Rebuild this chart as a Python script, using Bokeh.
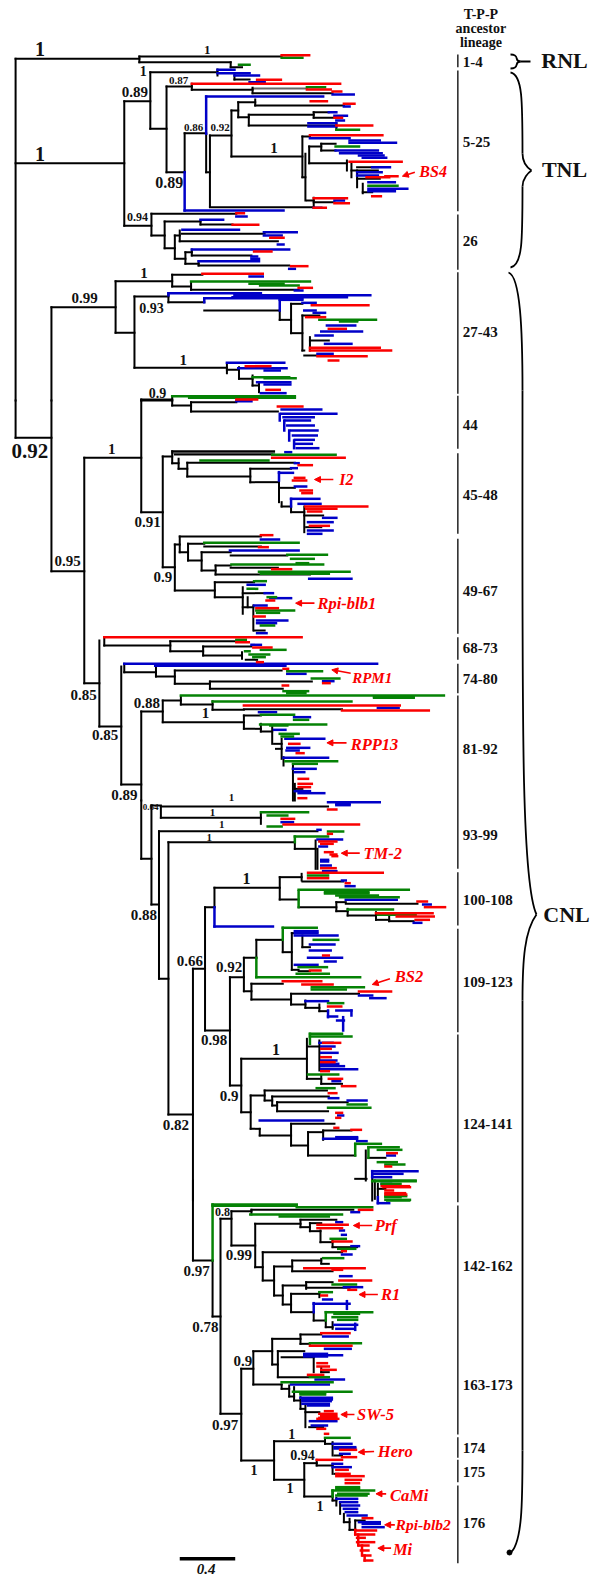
from bokeh.plotting import figure
from bokeh.embed import file_html
from bokeh.resources import INLINE
from bokeh.models import Arrow, NormalHead
from bokeh.core.properties import value

# Tree read per picture band: horizontal (y, x0, x1), vertical (x, y0, y1)
p1_black_h = [(175,40,368),(168,368,745),(185,368,610),(200,610,640),(488,40,328),(302,328,397),(215,397,575),(237,620,660),
(385,397,440),(258,440,507),(268,507,668),(278,668,880),(515,440,488),(398,488,545),(515,545,555),(405,555,612),
(330,612,630),(305,630,675),(315,675,910),(350,630,658),(343,658,830),(352,830,885),(335,830,870),(375,658,890),(468,612,800),
(408,800,820),(530,800,808),(438,818,850),(430,850,888),(450,850,888),(488,818,918),(510,930,1000),(500,945,1000),(535,945,1005),
(575,960,985),(600,812,830),(605,830,885),(620,555,830),
(920,135,305),(842,305,455),(823,455,535),(858,455,505),(868,505,790),(997,305,355),(888,355,445),(905,445,540),(930,540,740),
(958,740,770),(910,770,800),(998,770,800),(945,800,845),(1020,820,870),(1050,800,805),(1065,805,840),(1102,355,600),(1108,600,632),
(1135,632,668),(1155,668,685),
(676,328,400),(640,400,625),(705,400,435),(663,435,530),(672,530,615),(743,435,462),(705,462,475),(700,480,700),(722,475,735),
(775,462,490),(755,490,507),(765,507,665),(790,490,525),(795,525,765),(1197,373,455)]
p1_gray_h = [(264,668,812)]
p1_black_v = [(40,175,1200),(368,168,185),(610,185,200),(328,302,676),(397,215,385),(575,207,225),(620,218,237),(440,258,515),(507,250,268),
(668,262,278),(488,398,515),(545,400,515),(555,405,618),(612,330,468),(630,305,350),(675,297,315),(658,343,375),(830,335,352),
(890,368,388),(800,408,530),(808,460,600),(818,438,488),(850,430,450),(918,480,510),(930,490,530),(945,510,560),(960,550,578),
(830,592,620),(135,920,1200),(305,842,997),(455,823,858),(505,846,868),(355,888,1102),(445,878,905),(740,930,958),(770,910,998),
(800,945,1050),(820,1010,1050),(600,1088,1118),(632,1100,1135),(668,1125,1155),(685,1145,1175),(400,640,705),(435,663,743),(530,660,672),
(462,705,775),(475,690,722),(490,755,790),(507,747,765),(525,782,795),(373,1197,1200),(455,1187,1200)]
p1_blue_h = [(208,575,620),(218,575,660),(225,620,685),(245,660,700),(282,880,936),(288,545,855),(318,910,925),(335,870,890),(346,885,918),
(360,890,910),(368,816,890),(378,816,890),(413,820,925),(420,925,1005),(427,925,1048),(450,888,1000),(458,900,1010),(465,950,1015),(472,960,1022),
(500,985,1032),(515,945,1010),(525,945,1000),(545,975,1045),(565,975,1078),(572,975,1045),(600,885,910),(622,830,850),(630,488,750),
(828,660,695),(870,780,800),(878,445,690),(884,620,980),(890,615,918),(893,540,800),(898,740,800),(907,800,835),(930,805,835),(937,830,860),
(975,865,940),(993,850,958),(1005,835,880),(1030,860,930),(1060,840,880),(1087,600,752),(1103,630,758),(1110,700,740),(1145,680,768),(1152,700,768),(1178,690,755),
(648,625,652),(658,530,590),(688,482,632),(695,698,785),(705,698,745),(732,735,750),(747,507,765),(768,665,680),(775,665,685),(782,525,685),(805,765,780)]
p1_blue_v = [(488,515,630),(545,288,400),(445,878,884),(540,893,905),(740,898,930)]
p1_green_h = [(172,745,800),(193,632,660),(260,812,860),(388,890,950),(438,888,950),(556,975,1052),(843,505,820),(850,660,750),(855,688,790),
(958,845,995),(960,900,945),(963,900,945),(1130,668,765),(1133,700,782),(1187,455,780),(1192,500,780)]
p1_green_v = []
p1_red_h = [(164,745,818),(238,680,743),(250,507,900),(267,812,875),(273,880,903),(302,822,865),(310,910,938),(352,885,905),(375,890,985),
(404,820,1012),(484,925,1063),(530,970,1030),(527,1020,1052),(593,830,918),(608,885,923),(622,830,862),(587,985,1008),
(638,625,645),(673,615,683),(712,715,750),(753,672,718),(797,770,813),(820,535,695),(862,790,825),(914,825,975),(950,810,860),(985,870,915),
(1042,820,1005),(1050,820,1035),(1067,840,970),(1080,870,895),(1097,650,715),(1168,705,740),(1197,625,680)]

p2_black_h = [(0,373,455),(15,455,505),(5,505,625),(33,505,735),(112,40,135),(172,222,373),(335,373,430),(168,430,455),(152,455,725),(162,462,720),
(188,455,472),(205,472,495),(187,495,780),(228,495,662),(205,662,770),(245,662,738),(262,738,780),(318,745,770),(335,770,805),(345,805,855),(380,810,850),
(500,430,462),(432,462,475),(408,475,690),(455,475,497),(430,497,540),(438,540,690),(480,497,533),(455,533,610),(465,610,760),(510,533,570),(495,570,610),
(502,610,735),(522,570,820),(570,462,568),(545,568,672),(590,568,642),(578,642,700),(620,642,670),(690,672,700),(512,135,222),
(848,222,262),(735,275,450),(722,450,625),(752,450,537),(738,537,665),(765,537,640),(778,650,680),(978,262,320),(815,328,412),(828,412,462),(810,462,745),
(850,462,555),(843,555,825),(865,555,748),(1152,320,373),(933,373,430),(900,430,478),(912,478,562),(928,562,645),(926,645,905),(965,430,645),(945,645,690),
(985,645,690),(993,690,720),(1030,725,745),(1045,730,745),(1165,780,800)]
p2_gray_h = [(157,455,725)]
p2_black_v = [(40,0,112),(135,0,512),(373,0,335),(455,0,15),(505,5,33),(222,172,848),(430,168,500),(455,152,188),(472,175,205),(495,187,228),(662,205,245),
(738,245,305),(745,305,318),(770,318,335),(805,318,395),(462,432,570),(475,408,455),(497,430,480),(533,455,510),(570,495,522),(568,545,590),(642,560,640),(655,590,620),
(670,615,690),(262,720,978),(275,710,735),(450,722,752),(537,738,765),(640,755,775),(320,798,1152),(328,790,815),(412,800,828),(462,810,850),(555,843,865),
(373,933,1200),(430,900,965),(478,888,912),(562,902,928),(645,945,985),(690,970,993),(720,980,1030),(745,1015,1075),(750,1070,1095),(775,1095,1200),(780,1150,1200)]
p2_blue_h = [(2,625,665),(27,745,850),(40,745,890),(50,750,830),(60,755,820),(75,760,830),(90,770,840),(105,775,838),(118,780,830),(130,780,825),(143,785,842),
(155,755,770),(188,780,790),(203,770,785),(217,738,775),(258,780,810),(295,770,845),(310,790,848),(352,855,890),(365,815,880),(390,815,880),(400,815,850),
(417,690,738),(450,608,790),(535,818,930),(553,655,700),(578,700,722),(593,715,770),(615,672,705),(660,680,760),(668,680,730),(698,680,705),
(733,665,690),(790,328,998),(796,410,755),(820,760,808),(842,855,882),(922,1000,1055),(935,685,730),(950,778,820),(988,725,755),(1015,755,858),(1042,760,818),(1050,758,790),
(1072,750,868),(1105,775,835),(1115,780,805),(1172,780,820),(1178,790,858)]
p2_blue_v = [(738,215,240),(740,40,60),(752,60,90),(765,90,120),(778,120,143),(770,295,318)]
p2_green_h = [(163,720,888),(180,530,710),(427,540,790),(463,760,865),(475,770,830),(488,785,815),(492,612,855),(514,685,925),(520,690,870),(542,672,703),
(565,655,680),(590,708,730),(630,678,778),(637,680,738),(675,690,725),(718,625,650),(748,690,755),(752,648,660),(762,660,712),(770,670,700),(812,760,852),(834,825,898),
(872,750,815),(878,760,808),(885,478,1175),(889,990,1095),(892,990,1095),(903,562,930),(943,690,778),(958,778,815),(972,688,863),(975,715,760),(1000,740,790),(1008,745,775),(1082,755,892),(1090,775,838)]
p2_red_h = [(18,735,800),(172,720,912),(194,790,825),(232,780,805),(240,775,810),(270,795,825),(278,800,825),(318,808,972),(325,810,890),(333,815,850),(376,820,870),
(404,690,720),(440,685,708),(506,720,770),(600,705,725),(623,678,735),(648,672,700),(710,275,798),(725,625,658),(741,670,718),(785,680,695),(805,750,762),(848,855,872),(855,748,762),
(915,645,1058),(930,905,1135),(1030,765,792),(1058,785,803),(1135,790,815),(1150,790,825),(1160,790,820),(1193,790,810)]

p3_black_h = [(18,425,868),(52,425,690),(175,373,400),(15,400,425),(312,400,420),(92,420,840),(535,420,445),(125,445,780),(145,780,835),(942,445,510),(505,510,542),
(320,542,567),(262,567,740),(230,740,798),(243,800,908),(297,740,790),(320,790,890),(305,890,915),(310,915,1105),(332,890,920),(345,920,995),(358,995,1030),(362,1030,1095),
(690,542,608),(530,608,645),(472,645,678),(418,678,748),(455,748,772),(398,772,780),(440,800,820),(508,772,790),(512,790,820),(572,645,665),(550,665,748),(597,665,770),
(580,770,950),(612,770,808),(622,808,845),(632,845,868),(855,608,638),(775,638,812),(738,815,845),(835,812,850),(850,850,905),(935,638,663),(885,663,700),(870,700,865),(900,700,720),
(888,720,870),(915,720,733),(905,733,920),(932,733,868),(985,663,687),(1005,687,770),(970,770,885),(1035,770,815),(995,815,855),(990,855,930),(1065,815,940),(1135,940,970),(1072,975,1020)]
p3_black_v = [(373,0,175),(400,15,312),(425,18,52),(690,40,70),(420,92,535),(445,125,942),(780,125,145),(835,120,205),(840,145,205),(510,505,1200),(542,320,690),(567,262,320),(740,230,297),(798,220,240),(890,305,332),
(920,325,345),(995,335,358),(1030,345,362),(608,530,855),(645,472,572),(678,418,472),(748,418,455),(772,398,508),(800,405,440),(665,550,597),(770,580,612),(808,600,622),(845,612,632),
(638,775,935),(812,715,835),(845,720,810),(850,825,850),(663,885,985),(700,870,900),(720,888,915),(733,905,932),(687,985,1005),(770,970,1035),(815,995,1065),(855,990,1018),
(968,1050,1140),(985,1120,1200),(1000,1150,1200)]
p3_blue_h = [(5,868,1005),(10,890,925),(14,890,925),(65,745,775),(88,840,848),(117,840,905),(138,845,865),(178,850,868),(183,850,868),(195,850,875),(212,855,890),(240,905,915),(257,915,938),(298,915,1050),
(312,1120,1140),(367,1095,1115),(378,567,722),(392,780,840),(405,780,893),(398,780,840),(432,820,885),(450,820,875),(472,815,905),(483,860,888),(493,780,840),(585,950,985),(593,980,1020),(602,808,868),
(630,890,930),(648,868,892),(660,892,910),(738,850,885),(757,850,893),(727,845,880),(780,850,890),(790,850,895),(797,850,910),(806,850,945),(842,880,900),(893,870,895),(900,920,970),
(945,895,908),(960,687,855),(1015,855,945),(1010,890,945),(1022,945,970),(1065,1025,1045),(1112,985,1105),(1120,990,1065),(1130,985,1035)]
p3_blue_v = [(567,320,378),(868,630,650),(930,630,645),(908,650,690),(985,1112,1130)]
p3_green_h = [(35,690,815),(45,708,760),(78,708,745),(93,868,908),(108,780,868),(225,815,868),(268,790,1082),(275,860,975),(279,860,975),(285,890,1000),(290,900,1055),(327,920,1040),(343,1000,1100),
(382,748,838),(418,830,895),(500,790,865),(520,785,870),(530,678,953),(560,825,963),(567,825,915),(608,868,908),(700,820,905),(708,820,930),(822,815,895),(863,838,885),(912,920,970),
(922,868,980),(1030,940,1008),(1040,975,1055),(1048,1000,1062),(1085,1000,1050),(1092,1020,1070),(1140,990,1100),(1150,1010,1060),(1190,1020,1060),(1198,1020,1085)]
p3_green_v = [(790,272,320),(780,108,125),(678,472,530),(748,382,418),(820,700,730),(940,1030,1065),(975,1040,1072)]
p3_red_h = [(27,868,890),(55,745,778),(72,750,950),(100,868,878),(123,845,890),(130,850,880),(155,860,880),(162,875,890),(167,880,892),(203,850,888),(217,815,1013),(233,815,868),(248,915,925),
(303,1105,1130),(320,1125,1178),(338,995,1145),(348,1050,1148),(358,1100,1135),(465,855,870),(510,820,848),(542,748,850),(552,800,880),(573,950,1035),(618,868,903),
(727,855,900),(745,850,875),(770,850,875),(785,850,885),(812,850,870),(835,870,905),(857,905,940),(878,870,890),(937,890,905),(952,890,900),(982,885,895),(988,930,955),(1058,1025,1050),
(1098,1020,1035),(1160,1015,1085),(1170,1020,1040),(1182,1020,1075)]

p4_black_h = [(240,510,562),(408,562,583),(115,583,612),(92,612,665),(88,665,935),(195,612,675),(130,675,795),(118,795,890),(140,795,820),(128,820,850),(152,820,848),(185,848,880),(200,880,945),
(260,675,695),(215,695,905),(300,695,725),(258,725,773),(240,773,850),(250,850,870),(272,773,880),(345,725,748),(315,748,810),(305,810,880),(322,810,925),(372,748,770),(340,770,845),(395,770,830),
(420,830,862),(440,862,880),(700,583,638),(565,638,670),(512,670,720),(475,720,795),(462,795,850),(490,795,820),(552,720,735),(512,735,805),(530,745,830),(575,850,870),(590,735,815),(612,670,745),
(625,745,765),(648,765,778),(660,778,795),(685,795,805),(695,808,845),(740,818,855),(840,638,725),(782,725,860),(790,860,880),(825,885,905),(898,725,805),(848,805,838),(855,838,880),(880,885,895),
(948,805,880),(960,880,890),(1025,910,925),(1048,925,940),(1020,940,965),(25,1000,1020)]
p4_black_v = [(510,0,240),(992,0,55),(562,240,408),(583,115,700),(612,92,195),(665,88,102),(675,130,260),(795,118,140),(820,128,152),(848,150,185),(880,180,200),(695,215,300),(725,258,345),(773,240,272),
(850,235,248),(748,315,372),(810,305,325),(770,340,395),(845,335,350),(830,395,420),(862,420,440),(880,425,445),(638,565,840),(670,512,612),(720,475,552),(795,462,490),(735,512,590),(830,525,575),(850,560,575),
(745,612,625),(765,615,648),(778,620,660),(795,650,685),(808,672,740),(725,782,898),(860,775,790),(880,785,825),(805,848,948),(838,838,855),(880,850,880),(880,930,960),(890,952,975),(900,970,1000),(910,1000,1025),
(925,1015,1048),(940,1020,1048)]
p4_blue_h = [(10,1010,1035),(68,1000,1030),(95,930,950),(125,890,905),(150,900,910),(163,905,915),(197,930,950),(222,905,930),(287,900,930),(320,910,958),(357,855,878),(370,830,925),(433,885,945),(445,890,935),
(468,855,920),(505,860,928),(520,805,865),(524,805,905),(528,805,865),(597,835,910),(612,770,870),(652,795,878),(657,800,878),(662,800,875),(670,800,870),(675,815,870),(722,820,890),(735,825,865),
(790,880,930),(800,885,940),(804,885,940),(820,900,925),(850,880,905),(860,880,928),(955,890,945),(965,900,945),(975,905,950),(985,910,945),(995,915,945),(1005,920,970),(1025,950,1005),(1030,960,1005),(1040,960,1015)]
p4_blue_v = [(830,368,395),(918,362,385),(940,430,448),(1000,50,68)]
p4_green_h = [(2,985,1100),(47,1020,1075),(60,1025,1083),(72,562,785),(76,562,785),(80,785,985),(102,662,905),(108,740,870),(175,875,915),(205,895,940),(233,855,908),(312,880,942),(335,845,878),
(395,862,985),(400,885,950),(410,880,945),(418,895,945),(488,820,955),(590,820,870),(605,745,880),(634,775,930),(638,795,860),(642,795,860),(772,860,925),(920,890,950),(925,890,950),(930,880,990),(940,895,975),(945,890,970)]
p4_green_v = [(562,72,240),(862,395,420),(880,930,948)]
p4_red_h = [(17,1010,1082),(38,1020,1072),(88,950,985),(133,840,920),(143,840,905),(183,880,930),(212,905,915),(263,805,965),(268,880,905),(300,898,982),(328,922,942),(345,850,865),(458,850,925),(496,820,930),
(548,840,865),(558,840,870),(568,850,888),(583,815,855),(692,860,880),(700,845,890),(707,850,890),(712,845,890),(715,840,895),(745,840,860),(760,860,868),(808,900,942),(830,905,942),(838,838,905),
(868,890,920),(880,890,925),(887,890,962),(898,915,955),(908,915,950),(1013,960,985),(1050,940,995),(1062,940,990),(1072,945,965),(1085,945,990),(1095,950,975),(1110,955,975),(1125,960,980),(1140,965,985)]
p4_red_v = [(940,1048,1062),(948,1062,1095),(958,1095,1125),(965,1125,1140)]

panel_top = [0, 400, 800, 1180]
x_per_ref = 2.65
y_per_ref = 3.0

lineage_labels = ["1-4","5-25","26","27-43","44","45-48","49-67","68-73","74-80","81-92","93-99","100-108","109-123","124-141","142-162","163-173","174","175","176"]
lineage_panel = [0,0,0,0,1,1,1,1,1,1,2,2,2,2,3,3,3,3,3]
lineage_y = [183,425,722,993,72,282,570,743,835,1045,102,298,545,970,255,612,803,875,1028]
lineage_bars = [(0,162,0,200),(0,210,0,632),(0,642,0,808),(0,815,0,1180),(0,1186,1,145),(1,158,1,400),(1,415,1,700),(1,710,1,778),(1,790,1,878),(1,885,2,205),(2,215,2,375),(2,385,2,695),(2,702,3,65),(3,75,3,762),(3,770,3,832),(3,838,3,905),(3,915,3,1148)]

support = [
(0,"1",105,145,20),(0,"1",548,147,13),(0,"1",378,212,14),(0,"0.89",356,275,15),(0,"0.87",472,240,11),(0,"0.86",512,380,11),(0,"0.92",582,382,11),
(0,"1",105,460,20),(0,"1",725,442,15),(0,"0.89",447,545,16),(0,"0.94",363,650,12),(0,"1",380,818,15),(0,"0.99",223,893,15),(0,"0.93",400,922,14),(0,"1",484,1077,15),(0,"0.9",416,1178,14),
(1,"0.92",78,150,21),(1,"1",295,145,15),(1,"0.91",390,365,15),(1,"0.95",178,482,15),(1,"0.9",430,530,15),(1,"0.85",220,882,15),(1,"0.85",277,1003,15),(1,"0.88",388,907,15),(1,"1",543,938,15),(1,"0.89",328,1182,15),(1,"1",612,1190,11),
(2,"0.64",398,18,9),(2,"1",562,35,11),(2,"1",586,72,11),(2,"1",553,110,11),(2,"1",652,235,16),(2,"0.88",380,342,15),(2,"0.66",502,480,15),(2,"0.92",606,500,15),(2,"0.98",566,718,15),(2,"1",730,747,16),(2,"0.9",606,885,15),(2,"0.82",465,972,15),
(3,"0.8",588,93,12),(3,"0.99",632,222,15),(3,"0.97",520,272,15),(3,"0.78",543,438,15),(3,"0.9",642,540,15),(3,"0.97",595,732,15),(3,"1",772,760,14),(3,"0.94",800,824,14),(3,"1",672,867,14),(3,"1",767,922,14),(3,"1",847,975,14)]

genes = [
(0,"BS4",1110,513,1098,515,1065,527,16),(1,"I2",898,237,882,237,832,237,16),(1,"Rpi-blb1",840,610,832,608,782,608,16.5),(1,"RPM1",932,832,928,818,878,808,15),(1,"RPP13",928,1033,917,1027,865,1027,16.5),
(2,"TM-2",962,160,952,158,903,158,16.5),(2,"BS2",1045,528,1032,535,985,552,16.5),(3,"Prf",992,135,985,135,935,135,16.5),(3,"R1",1008,342,1000,342,950,342,16.5),(3,"SW-5",945,702,938,702,902,702,16.5),
(3,"Hero",1000,812,990,813,948,815,16.5),(3,"CaMi",1032,945,1022,940,995,940,16.5),(3,"Rpi-blb2",1047,1033,1045,1033,1018,1033,15.5),(3,"Mi",1040,1108,1035,1103,1000,1103,16.5)]

header_lines = ["T-P-P","ancestor","lineage"]
header_y = [14,28,42]
class_names = ["RNL","TNL","CNL"]
class_x = [564,564,566]
class_y = [60,169,914]

# brace pieces, in reference pixels: x0,y0,x1,y1,cx0,cy0,cx1,cy1
braces = [(510,54,520,61,520,54,513,61),(510,68,520,61,520,68,513,61),(520,61,530,61,520,61,530,61),
(510,72,522,153,522,74,522,100),(522,153,531,170,522,163,528,168),(531,170,522,186,528,172,522,178),(522,186,510,267,522,240,522,265),
(508,272,522,390,520,276,522,330),(522,390,536,914,522,700,520,880),(536,914,522,1000,524,930,522,960),(522,1000,522,1450,522,1150,522,1300),(522,1450,509,1553,522,1500,522,1545)]
brace_end = (509, 1552)

scale_bar = (1135, 475, 622)
scale_label = "0.4"

BLACK, BLUE, GREEN, RED, GRAY = "#000000", "#0000c8", "#058205", "#fa0000", "#666666"
W, H = 591, 1578
p = figure(width=W, height=H, x_range=(0, W), y_range=(H, 0), output_backend="svg", toolbar_location=None, min_border=0)
p.axis.visible = False
p.grid.visible = False
p.outline_line_color = None

def rx(v): return v / x_per_ref
def ry(panel, v): return panel_top[panel] + v / y_per_ref

def draw(panel, h, v, color, lw):
    if h:
        p.segment([rx(a) for _, a, _ in h], [ry(panel, y) for y, _, _ in h], [rx(b) for _, _, b in h], [ry(panel, y) for y, _, _ in h], line_color=color, line_width=lw, line_cap="square")
    if v:
        p.segment([rx(x) for x, _, _ in v], [ry(panel, a) for _, a, _ in v], [rx(x) for x, _, _ in v], [ry(panel, b) for _, _, b in v], line_color=color, line_width=lw, line_cap="square")

draw(0, p1_gray_h, [], GRAY, 2.0)
draw(1, p2_gray_h, [], GRAY, 2.0)
for i, (h, v) in enumerate([(p1_black_h, p1_black_v), (p2_black_h, p2_black_v), (p3_black_h, p3_black_v), (p4_black_h, p4_black_v)]):
    draw(i, h, v, BLACK, 2.0)
for i, (h, v) in enumerate([(p1_blue_h, p1_blue_v), (p2_blue_h, p2_blue_v), (p3_blue_h, p3_blue_v), (p4_blue_h, p4_blue_v)]):
    draw(i, h, v, BLUE, 2.5)
for i, (h, v) in enumerate([(p1_green_h, p1_green_v), (p2_green_h, []), (p3_green_h, p3_green_v), (p4_green_h, p4_green_v)]):
    draw(i, h, v, GREEN, 2.5)
for i, (h, v) in enumerate([(p1_red_h, []), (p2_red_h, []), (p3_red_h, []), (p4_red_h, p4_red_v)]):
    draw(i, h, v, RED, 2.5)

serif = value("Liberation Serif")
for pn, t, x, y, s in support:
    p.text([rx(x)], [ry(pn, y)], text=[t], text_font=serif, text_font_style="bold", text_font_size=f"{s}px", text_align="center", text_baseline="middle", text_color="#111111")

for pn, t, tx, ty, x0, y0, x1, y1, s in genes:
    p.text([rx(tx)], [ry(pn, ty)], text=[t], text_font=serif, text_font_style="bold italic", text_font_size=f"{s}px", text_align="left", text_baseline="middle", text_color=RED)
    p.add_layout(Arrow(end=NormalHead(size=6, fill_color=RED, line_color=RED), x_start=rx(x0), y_start=ry(pn, y0), x_end=rx(x1), y_end=ry(pn, y1), line_color=RED, line_width=1.6))

bars = lineage_bars
p.segment([rx(1212)] * len(bars), [ry(a, b) for a, b, _, _ in bars], [rx(1212)] * len(bars), [ry(c, d) for _, _, c, d in bars], line_color=BLACK, line_width=1.3)
p.text([rx(1225)] * len(lineage_labels), [ry(a, b) for a, b in zip(lineage_panel, lineage_y)], text=lineage_labels, text_font=serif, text_font_style="bold", text_font_size="15px", text_baseline="middle", text_color="#111111")
p.text([rx(1273)] * 3, header_y, text=header_lines, text_font=serif, text_font_style="bold", text_font_size="14px", text_align="center", text_baseline="middle", text_color="#111111")
p.text(class_x, class_y, text=class_names, text_font=serif, text_font_style="bold", text_font_size="22px", text_align="center", text_baseline="middle", text_color="#111111")

p.bezier(x0=[b[0] for b in braces], y0=[b[1] for b in braces], x1=[b[2] for b in braces], y1=[b[3] for b in braces],
         cx0=[b[4] for b in braces], cy0=[b[5] for b in braces], cx1=[b[6] for b in braces], cy1=[b[7] for b in braces], line_color=BLACK, line_width=1.8)
p.scatter([brace_end[0]], [brace_end[1]], size=5, color=BLACK)

p.segment([rx(scale_bar[1])], [ry(3, scale_bar[0])], [rx(scale_bar[2])], [ry(3, scale_bar[0])], line_color=BLACK, line_width=3.5)
p.text([rx(545)], [ry(3, 1165)], text=[scale_label], text_font=serif, text_font_style="bold italic", text_font_size="15px", text_align="center", text_baseline="middle", text_color="#111111")

open("out.html", "w").write(file_html(p, INLINE))
